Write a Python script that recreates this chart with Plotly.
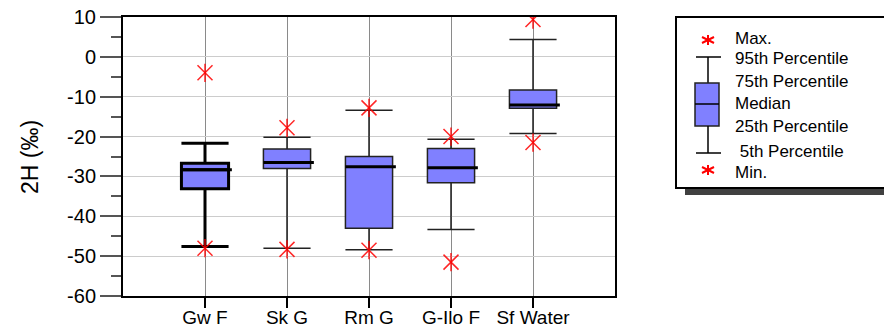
import plotly.graph_objects as go

# ---------------- data ----------------
categories = ["Gw F", "Sk G", "Rm G", "G-Ilo F", "Sf Water"]
p95 = [-21.7, -20.2, -13.4, -20.7, 4.35]
q3 = [-26.7, -23.1, -25.0, -23.0, -8.3]
median = [-28.3, -26.5, -27.6, -27.8, -12.1]
q1 = [-33.1, -28.0, -43.0, -31.6, -12.9]
p5 = [-47.6, -48.0, -48.4, -43.3, -19.2]
maxv = [-4.0, -17.8, -12.8, -20.0, 9.35]
minv = [-48.0, -48.3, -48.5, -51.5, -21.5]
y_ticks = [-60, -50, -40, -30, -20, -10, 0, 10]
y_ticktext = [str(v) for v in y_ticks]
legend_labels = ["Max.", "95th Percentile", "75th Percentile", "Median",
                 "25th Percentile", " 5th Percentile", "Min."]

# ---------------- layout geometry ----------------
W, H = 884, 327
L, R, T, B = 123, 269, 17, 31
PW, PH = W - L - R, H - T - B
FONT = "Liberation Sans, Arial, sans-serif"
BOXW = 0.575
RED = "rgba(255,0,0,0.85)"

def px(x):
    return (x - L) / PW

def py(y):
    return (H - B - y) / PH

xs = list(range(1, len(categories) + 1))
fig = go.Figure()

for i, x in enumerate(xs):
    lw = 3 if i == 0 else 1.5
    fig.add_trace(go.Box(
        x=[x], q1=[q1[i]], median=[median[i]], q3=[q3[i]],
        lowerfence=[p5[i]], upperfence=[p95[i]],
        width=BOXW, whiskerwidth=1,
        fillcolor="#8080FF",
        line=dict(color="#000000" if i == 0 else "#222222", width=lw),
        boxpoints=False, showlegend=False, hoverinfo="skip"))
    fig.add_trace(go.Scatter(
        x=[x - BOXW / 2, x + BOXW / 2 + 0.04], y=[median[i], median[i]],
        mode="lines", line=dict(color="black", width=3),
        showlegend=False, hoverinfo="skip"))

for vals in (maxv, minv):
    fig.add_trace(go.Scatter(
        x=xs, y=vals, mode="markers",
        marker=dict(symbol="x-thin-open", size=15, color=RED,
                    line=dict(color=RED, width=1.5)),
        showlegend=False, hoverinfo="skip"))
    fig.add_trace(go.Scatter(
        x=xs, y=vals, mode="markers",
        marker=dict(symbol="line-ns-open", size=13, color=RED,
                    line=dict(color=RED, width=1.5)),
        showlegend=False, hoverinfo="skip"))

# ---------------- legend (drawn) ----------------
shapes = []
annotations = []
shapes.append(dict(type="rect", xref="paper", yref="paper",
                   x0=px(685), x1=px(910), y0=py(195), y1=py(26),
                   fillcolor="#404040", line=dict(width=0), layer="above"))
shapes.append(dict(type="rect", xref="paper", yref="paper",
                   x0=px(676), x1=px(905), y0=py(188), y1=py(17),
                   fillcolor="white", line=dict(color="black", width=2), layer="above"))

def leg_line(x0, y0, x1, y1, color="black", width=1.5):
    shapes.append(dict(type="line", xref="paper", yref="paper",
                       x0=px(x0), y0=py(y0), x1=px(x1), y1=py(y1),
                       line=dict(color=color, width=width), layer="above"))

def leg_star(cx, cy):
    leg_line(cx, cy - 5, cx, cy + 5, "red", 2)
    leg_line(cx - 6, cy - 3, cx + 6, cy + 3, "red", 2)
    leg_line(cx - 6, cy + 3, cx + 6, cy - 3, "red", 2)

leg_star(708, 40)
leg_star(708, 170)
leg_line(696, 57, 721, 57)
leg_line(708, 57, 708, 83)
shapes.append(dict(type="rect", xref="paper", yref="paper",
                   x0=px(695), x1=px(719), y0=py(126), y1=py(83),
                   fillcolor="#8080FF", line=dict(color="#222222", width=1.5),
                   layer="above"))
leg_line(695, 104, 719, 104)
leg_line(708, 126, 708, 153)
leg_line(696, 153, 721, 153)

label_y = [38, 59, 81, 104, 127, 151, 172]
for lab, yy in zip(legend_labels, label_y):
    annotations.append(dict(
        text=lab.replace(" ", "&nbsp;", 1) if lab.startswith(" ") else lab,
        xref="paper", yref="paper", x=px(733), y=py(yy),
        xanchor="left", yanchor="middle", showarrow=False,
        font=dict(family=FONT, size=17, color="black")))

# y axis title
annotations.append(dict(
    text="2H (‰)", xref="paper", yref="paper", x=px(30), y=py(157),
    xanchor="center", yanchor="middle", textangle=-90, showarrow=False,
    font=dict(family=FONT, size=23, color="black")))

fig.update_layout(
    width=W, height=H,
    margin=dict(l=L, r=R, t=T, b=B, pad=0, autoexpand=False),
    paper_bgcolor="white", plot_bgcolor="white",
    boxmode="overlay",
    shapes=shapes, annotations=annotations,
    font=dict(family=FONT, color="black"),
    xaxis=dict(
        range=[0, 6], tickmode="array", tickvals=xs, ticktext=categories,
        ticks="outside", ticklen=10, tickwidth=1.5, tickcolor="black",
        ticklabelstandoff=-7,
        showline=True, linecolor="black", linewidth=2, mirror=True,
        showgrid=True, gridcolor="#8a8a8a", gridwidth=1, zeroline=False,
        automargin=False,
        tickfont=dict(family=FONT, size=19, color="black"),
    ),
    yaxis=dict(
        range=[-60, 10], tickmode="array", tickvals=y_ticks, ticktext=y_ticktext,
        ticks="outside", ticklen=21, tickwidth=2, tickcolor="#555555",
        minor=dict(ticks="outside", ticklen=10, tickwidth=2, tickcolor="#555555",
                   dtick=5, tick0=5, showgrid=False),
        showline=True, linecolor="black", linewidth=2, mirror=True,
        showgrid=True, gridcolor="#cccccc", gridwidth=1, zeroline=False,
        automargin=False,
        tickfont=dict(family=FONT, size=20, color="black"),
    ),
)

fig.write_html("out.html")
